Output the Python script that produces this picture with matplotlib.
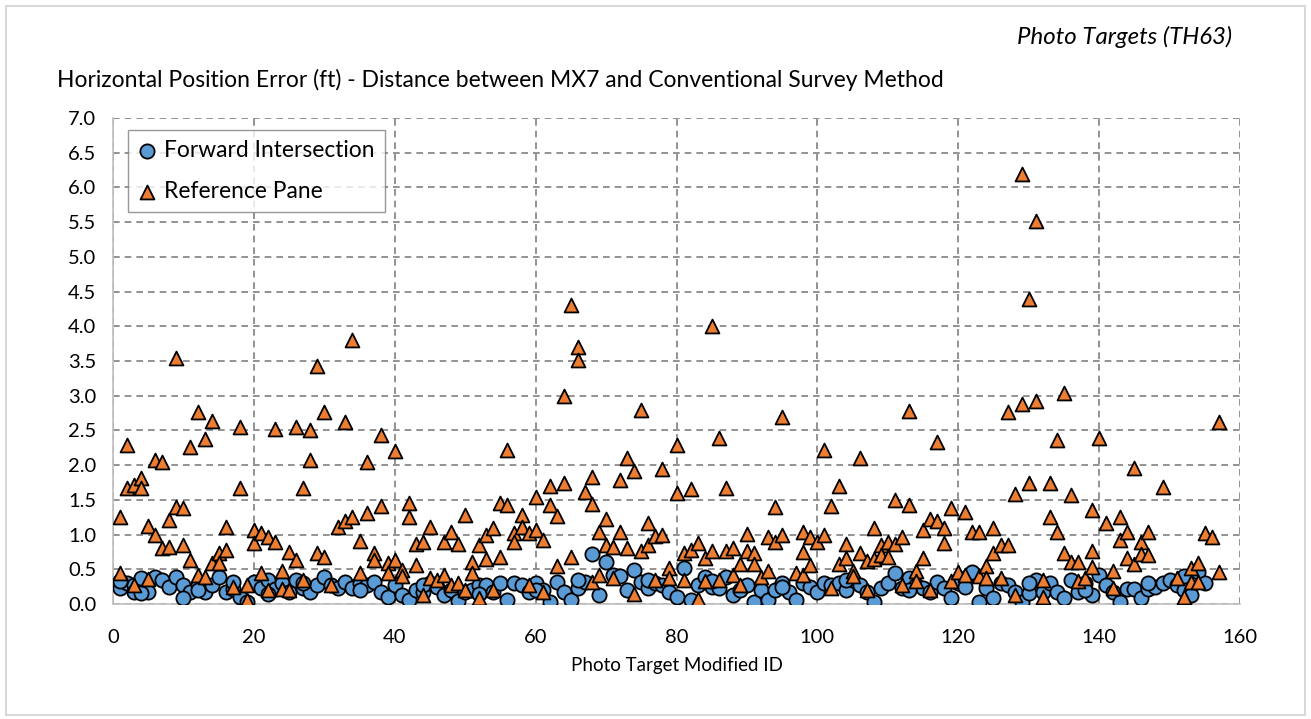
import matplotlib
matplotlib.use("Agg")
import matplotlib.pyplot as plt
from matplotlib.patches import Rectangle

# ---------------- data ----------------
fi_x = list(range(1, 156)) + [1, 3, 4, 10, 12, 17, 22, 27, 35, 44, 52, 60, 66, 76, 85, 95, 104, 113, 121, 130, 138, 147, 152]
fi_y = [0.23, 0.30, 0.28, 0.37, 0.18, 0.39, 0.35, 0.25, 0.39, 0.27,
        0.18, 0.27, 0.18, 0.27, 0.39, 0.18, 0.22, 0.10, 0.03, 0.32,
        0.23, 0.35, 0.22, 0.30, 0.18, 0.35, 0.23, 0.18, 0.27, 0.39,
        0.28, 0.23, 0.32, 0.23, 0.30, 0.27, 0.32, 0.18, 0.10, 0.27,
        0.13, 0.06, 0.20, 0.18, 0.30, 0.25, 0.13, 0.20, 0.04, 0.18,
        0.20, 0.28, 0.27, 0.18, 0.30, 0.06, 0.30, 0.28, 0.18, 0.30,
        0.20, 0.03, 0.32, 0.18, 0.06, 0.23, 0.32, 0.72, 0.13, 0.60,
        0.42, 0.40, 0.20, 0.49, 0.32, 0.23, 0.30, 0.27, 0.18, 0.10,
        0.52, 0.06, 0.27, 0.39, 0.25, 0.23, 0.39, 0.13, 0.20, 0.27,
        0.03, 0.20, 0.06, 0.20, 0.30, 0.18, 0.06, 0.30, 0.25, 0.18,
        0.30, 0.27, 0.30, 0.20, 0.35, 0.27, 0.18, 0.03, 0.23, 0.30,
        0.44, 0.23, 0.37, 0.28, 0.23, 0.18, 0.32, 0.23, 0.08, 0.30,
        0.37, 0.46, 0.03, 0.23, 0.09, 0.30, 0.27, 0.18, 0.03, 0.16,
        0.35, 0.18, 0.30, 0.18, 0.08, 0.35, 0.18, 0.30, 0.13, 0.42,
        0.27, 0.18, 0.03, 0.22, 0.22, 0.08, 0.22, 0.25, 0.30, 0.35,
        0.27, 0.20, 0.13, 0.46, 0.30,
        0.33, 0.18, 0.16, 0.09, 0.20, 0.32, 0.15, 0.30, 0.20, 0.28,
        0.15, 0.20, 0.35, 0.35, 0.33, 0.25, 0.35, 0.20, 0.25, 0.30,
        0.20, 0.30, 0.40]

rp_x = [1, 1, 2, 2, 3, 3, 4, 4, 5, 5, 6, 6, 7, 7, 8, 8, 9, 9, 10, 10,
        11, 11, 12, 12, 13, 13, 14, 14, 15, 15, 16, 16, 17, 18, 18, 19, 19, 20, 20, 21,
        21, 22, 22, 23, 23, 24, 24, 25, 25, 26, 26, 27, 27, 28, 28, 29, 29, 30, 30, 31,
        32, 33, 33, 34, 34, 35, 35, 36, 36, 37, 37, 38, 38, 39, 39, 40, 40, 41, 41, 42,
        42, 43, 43, 44, 44, 45, 45, 46, 47, 47, 48, 48, 49, 49, 50, 50, 51, 51, 52, 52,
        53, 53, 54, 54, 55, 55, 56, 56, 57, 57, 58, 58, 59, 59, 60, 60, 61, 61, 62, 62,
        63, 63, 64, 64, 65, 65, 66, 66, 67, 68, 68, 68, 69, 69, 70, 70, 71, 71, 72, 72,
        73, 73, 74, 74, 75, 75, 76, 76, 77, 77, 78, 78, 79, 79, 80, 80, 81, 81, 82, 82,
        83, 83, 84, 84, 85, 85, 86, 86, 87, 87, 88, 88, 89, 89, 90, 90, 91, 91, 92, 93,
        93, 94, 94, 95, 95, 97, 98, 98, 98, 99, 99, 100, 101, 101, 102, 102, 103, 103, 104, 104,
        105, 105, 106, 106, 107, 107, 108, 108, 109, 109, 110, 110, 111, 111, 112, 112, 113, 113, 114, 114,
        115, 115, 116, 116, 117, 117, 118, 118, 119, 119, 120, 121, 121, 122, 123, 123, 124, 124, 125, 125,
        126, 126, 127, 127, 128, 128, 129, 129, 130, 130, 131, 131, 132, 132, 133, 133, 134, 134, 135, 135,
        136, 136, 137, 137, 138, 139, 139, 139, 140, 141, 142, 142, 143, 143, 144, 144, 145, 145, 146, 146,
        147, 147, 149, 151, 152, 153, 153, 154, 154, 155, 156, 157, 157]
rp_y = [1.26, 0.45, 2.29, 1.67, 1.71, 0.27, 1.81, 1.67, 1.12, 0.36, 2.07, 1.00, 2.04, 0.80, 0.82, 1.21, 3.54, 1.40, 1.38, 0.85,
        2.26, 0.63, 2.77, 0.42, 2.38, 0.39, 2.63, 0.59, 0.73, 0.59, 0.78, 1.11, 0.25, 2.55, 1.67, 0.06, 0.27, 1.06, 0.88, 1.02,
        0.44, 0.97, 0.20, 2.52, 0.90, 0.47, 0.22, 0.75, 0.20, 2.55, 0.63, 1.67, 0.35, 2.50, 2.07, 3.43, 0.73, 2.77, 0.67, 0.27,
        1.11, 2.62, 1.19, 3.80, 1.25, 0.91, 0.44, 2.04, 1.31, 0.73, 0.63, 2.44, 1.41, 0.59, 0.44, 2.21, 0.63, 0.49, 0.40, 1.46,
        1.25, 0.56, 0.87, 0.90, 0.13, 1.11, 0.37, 0.35, 0.90, 0.42, 1.04, 0.27, 0.87, 0.30, 1.28, 0.20, 0.61, 0.45, 0.85, 0.08,
        1.00, 0.65, 1.09, 0.20, 1.46, 0.67, 2.22, 1.43, 1.02, 0.90, 1.28, 1.11, 1.02, 0.27, 1.54, 1.06, 0.92, 0.18, 1.70, 1.43,
        1.27, 0.55, 3.00, 1.75, 4.31, 0.67, 3.70, 3.52, 1.62, 1.83, 1.44, 0.32, 1.04, 0.42, 1.23, 0.85, 0.82, 0.37, 1.79, 1.04,
        2.11, 0.81, 1.91, 0.15, 2.80, 0.76, 1.16, 0.85, 0.98, 0.35, 1.94, 1.00, 0.52, 0.37, 2.29, 1.60, 0.74, 0.34, 1.65, 0.78,
        0.88, 0.07, 0.66, 0.33, 4.00, 0.77, 2.39, 0.35, 1.67, 0.76, 0.80, 0.42, 0.57, 0.27, 1.01, 0.77, 0.73, 0.57, 0.39, 0.97,
        0.48, 1.40, 0.90, 2.70, 1.00, 0.44, 0.42, 1.03, 0.75, 0.97, 0.56, 0.90, 2.22, 1.00, 1.41, 0.23, 1.70, 0.58, 0.87, 0.66,
        0.47, 0.40, 2.10, 0.74, 0.62, 0.20, 1.10, 0.65, 0.85, 0.70, 0.90, 0.67, 1.50, 0.87, 0.96, 0.27, 2.78, 1.42, 0.47, 0.33,
        1.07, 0.66, 1.23, 0.20, 2.33, 1.20, 1.09, 0.88, 1.38, 0.33, 0.46, 1.33, 0.42, 1.03, 1.04, 0.40, 0.55, 0.37, 1.09, 0.73,
        0.85, 0.37, 2.77, 0.85, 1.58, 0.13, 6.20, 2.88, 4.40, 1.74, 5.51, 2.92, 0.35, 0.10, 1.74, 1.25, 2.36, 1.03, 3.04, 0.74,
        1.57, 0.60, 0.61, 0.33, 0.37, 1.35, 0.76, 0.54, 2.39, 1.17, 0.47, 0.23, 1.26, 0.92, 1.04, 0.66, 1.96, 0.58, 0.90, 0.72,
        1.04, 0.70, 1.69, 0.37, 0.10, 0.52, 0.31, 0.59, 0.31, 1.02, 0.97, 0.46, 2.62]

x_ticks = [0, 20, 40, 60, 80, 100, 120, 140, 160]
y_ticks = [0.0, 0.5, 1.0, 1.5, 2.0, 2.5, 3.0, 3.5, 4.0, 4.5, 5.0, 5.5, 6.0, 6.5, 7.0]

# ---------------- plot ----------------
plt.rcParams['font.family'] = ['Lato', 'DejaVu Sans']
W, H = 1311, 719
fig = plt.figure(figsize=(W / 100, H / 100), dpi=100)
fig.patches.append(Rectangle((6 / W, 4 / H), (W - 12) / W, (H - 10) / H, transform=fig.transFigure,
                             fill=False, edgecolor='#d9d9d9', linewidth=1.5))

ax = fig.add_axes([113 / W, 1 - 604 / H, (1240 - 113) / W, (604 - 118) / H])
ax.scatter(fi_x, fi_y, s=105, marker='o', facecolor='#5B9BD5', edgecolor='black', linewidth=1.3,
           label='Forward Intersection', zorder=3)
ax.scatter(rp_x, rp_y, s=100, marker='^', facecolor='#ED7D31', edgecolor='black', linewidth=1.3,
           label='Reference Pane', zorder=4)

ax.set_xlim(0, 160)
ax.set_ylim(0, 7.0)
ax.set_xticks(x_ticks)
ax.set_yticks(y_ticks)
ax.set_yticklabels([f"{v:.1f}" for v in y_ticks])
ax.grid(True, color='#808080', linestyle=(0, (4, 3)), linewidth=1.2)
ax.set_axisbelow(True)
for s in ['top', 'right']:
    ax.spines[s].set_visible(False)
for s in ['left', 'bottom']:
    ax.spines[s].set_color('#bfbfbf')
    ax.spines[s].set_linewidth(1.2)
ax.tick_params(axis='both', labelsize=14.5, length=0, labelcolor='black')
ax.tick_params(axis='y', pad=12)
ax.tick_params(axis='x', pad=18)
ax.set_xlabel('Photo Target Modified ID', fontsize=13.5, labelpad=8)

leg = ax.legend(loc='upper left', bbox_to_anchor=(128 / W, 1 - 130 / H), bbox_transform=fig.transFigure,
                fontsize=16.4, frameon=True, fancybox=False, edgecolor='#7f7f7f', borderpad=0.45,
                handlelength=0.8, handletextpad=0.35, labelspacing=0.85, borderaxespad=0)
leg.get_frame().set_linewidth(1.0)

fig.text(57 / W, 1 - 80 / H, 'Horizontal Position Error (ft) - Distance between MX7 and Conventional Survey Method',
         fontsize=16.5, ha='left', va='center')
fig.text(1232 / W, 1 - 37 / H, 'Photo Targets (TH63)', fontsize=17.3, style='italic', ha='right', va='center')

fig.savefig('out.png', dpi=100)
